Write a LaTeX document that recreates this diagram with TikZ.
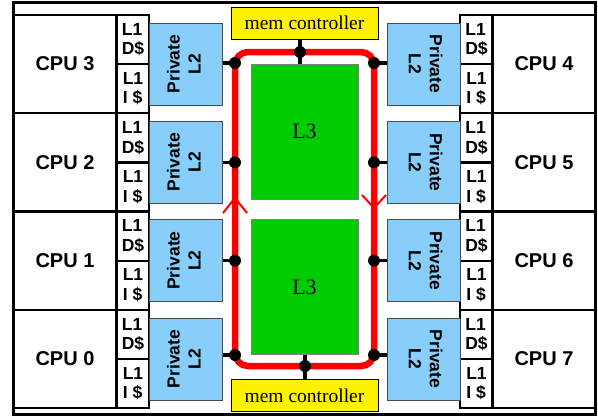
\documentclass[tikz,border=0pt]{standalone}
\usepackage{fontspec}
\setmainfont{Liberation Serif}
\setsansfont{Liberation Sans}
\definecolor{l2blue}{RGB}{135,206,250}
\definecolor{l3green}{RGB}{0,204,0}
\newcommand{\privlabel}[1]{\rotatebox{#1}{\begin{tabular}{@{}c@{}}Private\\L2\end{tabular}}}
\tikzstyle{cpubox}=[
    draw, line width=2.2pt,
    inner sep=0pt,
    minimum width=103pt, minimum height=98.25pt,
    font=\sffamily\bfseries\fontsize{20}{22}\selectfont,
]
\tikzstyle{loncache}=[
    draw, line width=2.2pt,
    inner sep=0pt, align=left,
    minimum width=32.5pt, minimum height=49.1pt,
    font=\sffamily\bfseries\fontsize{17.5}{19.5}\selectfont,
]
\tikzstyle{ltwocache}=[
    draw=black!70, fill=l2blue, line width=0.8pt,
    inner sep=0pt,
    minimum width=73pt, minimum height=82pt,
    font=\sffamily\bfseries\fontsize{17.5}{21}\selectfont,
]
\tikzstyle{lthreecache}=[
    draw=black!50, fill=l3green, line width=0.8pt,
    minimum width=107pt, minimum height=135pt,
    font=\fontsize{22}{24}\selectfont,
]
\tikzstyle{memctl}=[
    draw, fill=yellow, line width=0.8pt,
    minimum width=147pt, minimum height=32pt,
    font=\fontsize{19.5}{22}\selectfont,
]
\tikzstyle{joint}=[circle, fill=black, inner sep=0pt, minimum size=12pt]
\tikzstyle{stub}=[line width=3.5pt]
\tikzstyle{ring}=[red, line width=6.5pt, rounded corners=13pt]
\tikzstyle{ringtip}=[red, line width=2pt]

\begin{document}
\begin{tikzpicture}[x=1pt, y=-1pt]
    \useasboundingbox (0,0) rectangle (598,416);
    \draw[line width=3pt] (13,2) rectangle (595,414);

    % left column
    \node (cpu3) at (65, 64.1) [cpubox] {CPU 3};
    \node (cpu2) at (65,162.4) [cpubox] {CPU 2};
    \node (cpu1) at (65,260.6) [cpubox] {CPU 1};
    \node (cpu0) at (65,358.9) [cpubox] {CPU 0};
    \node (ld3) at (133, 39.6) [loncache] {L1\\D\$};
    \node (li3) at (133, 88.7) [loncache] {L1\\I \$};
    \node (ld2) at (133,137.9) [loncache] {L1\\D\$};
    \node (li2) at (133,187.0) [loncache] {L1\\I \$};
    \node (ld1) at (133,236.1) [loncache] {L1\\D\$};
    \node (li1) at (133,285.2) [loncache] {L1\\I \$};
    \node (ld0) at (133,334.4) [loncache] {L1\\D\$};
    \node (li0) at (133,383.5) [loncache] {L1\\I \$};
    \node (ltwo3) at (186, 64.1) [ltwocache] {\privlabel{90}};
    \node (ltwo2) at (186,162.4) [ltwocache] {\privlabel{90}};
    \node (ltwo1) at (186,260.6) [ltwocache] {\privlabel{90}};
    \node (ltwo0) at (186,358.9) [ltwocache] {\privlabel{90}};

    % right column
    \node (cpu4) at (544, 64.1) [cpubox] {CPU 4};
    \node (cpu5) at (544,162.4) [cpubox] {CPU 5};
    \node (cpu6) at (544,260.6) [cpubox] {CPU 6};
    \node (cpu7) at (544,358.9) [cpubox] {CPU 7};
    \node (ld4) at (476.5, 39.6) [loncache] {L1\\D\$};
    \node (li4) at (476.5, 88.7) [loncache] {L1\\I \$};
    \node (ld5) at (476.5,137.9) [loncache] {L1\\D\$};
    \node (li5) at (476.5,187.0) [loncache] {L1\\I \$};
    \node (ld6) at (476.5,236.1) [loncache] {L1\\D\$};
    \node (li6) at (476.5,285.2) [loncache] {L1\\I \$};
    \node (ld7) at (476.5,334.4) [loncache] {L1\\D\$};
    \node (li7) at (476.5,383.5) [loncache] {L1\\I \$};
    \node (ltwo4) at (423.5, 64.1) [ltwocache] {\privlabel{-90}};
    \node (ltwo5) at (423.5,162.4) [ltwocache] {\privlabel{-90}};
    \node (ltwo6) at (423.5,260.6) [ltwocache] {\privlabel{-90}};
    \node (ltwo7) at (423.5,358.9) [ltwocache] {\privlabel{-90}};

    % shared part
    \node (lthreetop) at (304.5,131.5) [lthreecache] {L3};
    \node (lthreebot) at (304.5,287) [lthreecache] {L3};
    \node (mctop) at (304.5,23) [memctl] {mem controller};
    \node (mcbot) at (304.5,395.5) [memctl] {mem controller};

    \coordinate (j3) at (235,63);
    \coordinate (j2) at (235,162.4);
    \coordinate (j1) at (235,260.6);
    \coordinate (j0) at (235,355);
    \coordinate (j4) at (374,63);
    \coordinate (j5) at (374,162.4);
    \coordinate (j6) at (374,260.6);
    \coordinate (j7) at (374,355);
    \coordinate (jt) at (300,52);
    \coordinate (jb) at (305,366);

    \draw[ring] (235,52) rectangle (374,366);
    \draw[ringtip] (223,213) -- (235,198) -- (247,213);
    \draw[ringtip] (362,195) -- (374,208) -- (386,195);

    \draw[stub] (ltwo3.east |- j3) -- (j3);
    \draw[stub] (ltwo2.east |- j2) -- (j2);
    \draw[stub] (ltwo1.east |- j1) -- (j1);
    \draw[stub] (ltwo0.east |- j0) -- (j0);
    \draw[stub] (ltwo4.west |- j4) -- (j4);
    \draw[stub] (ltwo5.west |- j5) -- (j5);
    \draw[stub] (ltwo6.west |- j6) -- (j6);
    \draw[stub] (ltwo7.west |- j7) -- (j7);
    \draw[stub] (mctop.south -| jt) -- (lthreetop.north -| jt);
    \draw[stub] (lthreebot.south -| jb) -- (mcbot.north -| jb);

    \node (d3) at (j3) [joint] {};
    \node (d2) at (j2) [joint] {};
    \node (d1) at (j1) [joint] {};
    \node (d0) at (j0) [joint] {};
    \node (d4) at (j4) [joint] {};
    \node (d5) at (j5) [joint] {};
    \node (d6) at (j6) [joint] {};
    \node (d7) at (j7) [joint] {};
    \node (dt) at (jt) [joint] {};
    \node (db) at (jb) [joint] {};
\end{tikzpicture}
\end{document}
